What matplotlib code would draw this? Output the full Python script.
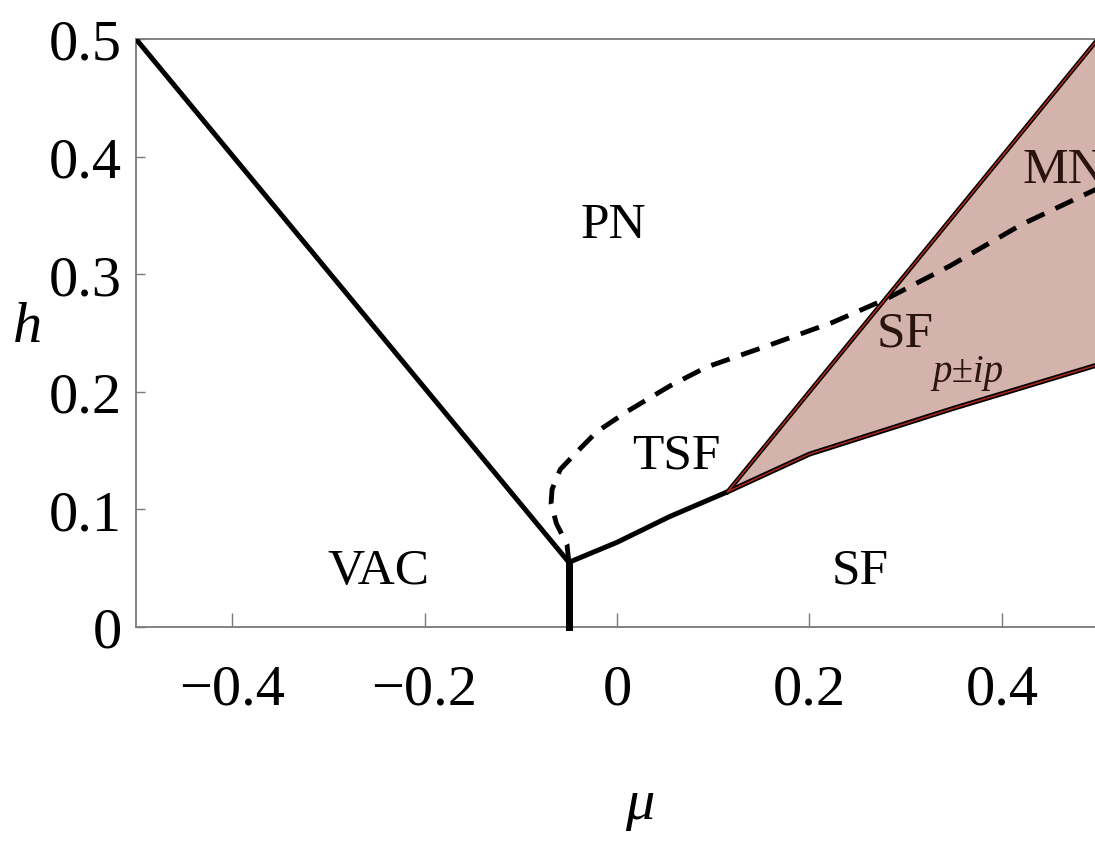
import matplotlib
matplotlib.use("Agg")
import matplotlib.pyplot as plt

# phase boundaries (mu, h)
vac_pn_mu = [-0.5, -0.05]
vac_pn_h = [0.5, 0.055]

vac_sf_mu = [-0.05, -0.05]
vac_sf_h = [0.0, 0.055]

tsf_sf_mu = [-0.05, 0.0, 0.055, 0.115]
tsf_sf_h = [0.055, 0.072, 0.094, 0.115]

pip_upper_mu = [0.115, 0.5]
pip_upper_h = [0.115, 0.5]

pip_lower_mu = [0.115, 0.2, 0.35, 0.5]
pip_lower_h = [0.115, 0.147, 0.186, 0.223]

dashed_mu = [-0.05, -0.05, -0.052, -0.063, -0.0685, -0.0675, -0.059, -0.0416,
             -0.021, 0.010, 0.055, 0.093, 0.156, 0.224, 0.28, 0.346, 0.42, 0.5]
dashed_h = [0.0, 0.055, 0.07, 0.088, 0.105, 0.117, 0.134, 0.149,
            0.166, 0.183, 0.205, 0.221, 0.239, 0.259, 0.279, 0.307, 0.342, 0.373]

x_ticks = [-0.4, -0.2, 0.0, 0.2, 0.4]
x_ticklabels = ["\u22120.4", "\u22120.2", "0", "0.2", "0.4"]
y_ticks = [0.0, 0.1, 0.2, 0.3, 0.4, 0.5]
y_ticklabels = ["0", "0.1", "0.2", "0.3", "0.4", "0.5"]

plt.rcParams['font.family'] = ['Liberation Serif', 'DejaVu Serif']

W, H = 1095, 853
fig = plt.figure(figsize=(W / 100, H / 100), dpi=100)
ax = fig.add_axes([136 / W, (H - 628) / H, 962 / W, 588 / H])
ax.set_xlim(-0.5, 0.5)
ax.set_ylim(0, 0.5)

gris = '#7a7a7a'
for lado in ['left', 'bottom', 'top']:
    ax.spines[lado].set_color(gris)
    ax.spines[lado].set_linewidth(1.3)
ax.spines['right'].set_visible(False)

ax.set_xticks(x_ticks)
ax.set_xticklabels(x_ticklabels)
ax.set_yticks(y_ticks)
ax.set_yticklabels(y_ticklabels)
ax.tick_params(axis='x', direction='in', length=10, width=1, color=gris,
               labelsize=42, pad=26, top=False)
ax.tick_params(axis='y', direction='in', length=6.5, width=1, color=gris,
               labelsize=42, pad=10, right=False)

# region p+ip relleno
poly_mu = pip_upper_mu + pip_lower_mu[::-1]
poly_h = pip_upper_h + pip_lower_h[::-1]
ax.fill(poly_mu, poly_h, color='#d5b3ad', zorder=1)

negro = dict(color='black', linewidth=3.6, solid_capstyle='butt', zorder=3)
ax.plot(vac_pn_mu, vac_pn_h, **negro)
ax.plot(tsf_sf_mu, tsf_sf_h, **negro)
ax.plot(vac_sf_mu, vac_sf_h, color='black', linewidth=5, zorder=3, clip_on=False)
ax.plot(pip_upper_mu, pip_upper_h, color='black', linewidth=3.2, zorder=3)
ax.plot(pip_lower_mu, pip_lower_h, color='black', linewidth=3.6, zorder=3)
ax.plot(pip_upper_mu, pip_upper_h, color='#b0281a', linewidth=1.1, zorder=4)
ax.plot(pip_lower_mu, pip_lower_h, color='#b0281a', linewidth=1.1, zorder=4)

ax.plot(dashed_mu, dashed_h, color='black', linewidth=3.5,
        dashes=(4, 2.5), zorder=3)

# etiquetas de fases
etiq = dict(fontsize=37, ha='center', va='center', zorder=5)
ax.text(-0.004, 0.342, "PN", **etiq)
ax.text(-0.248, 0.048, "VAC", **etiq)
ax.text(0.062, 0.146, "TSF", **etiq)
ax.text(0.253, 0.048, "SF", **etiq)
ax.text(0.421, 0.389, "MN", fontsize=37, ha='left', va='center', zorder=5,
        color='#2a1410')
ax.text(0.300, 0.250, "SF", fontsize=37, ha='center', va='center', zorder=5,
        color='#2a1410')
ax.text(0.328, 0.217, "p\u00b1ip", fontsize=28, style='italic', ha='left',
        va='center', zorder=5, color='#2a1410')

fig.text(28 / W, 1 - 328 / H, "h", fontsize=42, style='italic',
         ha='center', va='center')
fig.text(640 / W, 1 - 805 / H, "\u03bc", fontsize=42, style='italic',
         ha='center', va='center')

fig.savefig("out.png", dpi=100, facecolor='white')
